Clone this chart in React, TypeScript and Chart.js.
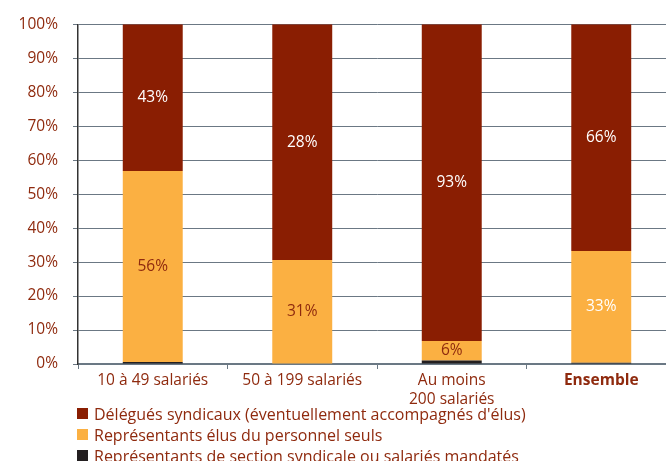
import React, { useEffect, useRef } from "react";
import { Chart, registerables } from "chart.js";

Chart.register(...registerables);

const categories: (string | string[])[] = ["10 à 49 salariés", "50 à 199 salariés", ["Au moins", "200 salariés"], "Ensemble"];
const mandatesValues = [0.6, 0, 1.0, 0.4];
const elusValues = [56.2, 30.6, 5.8, 32.9];
const delegatesValues = [43.2, 69.4, 93.2, 66.7];
const delegatesLabels = ["43%", "28%", "93%", "66%"];
const elusLabels = ["56%", "31%", "6%", "33%"];
const legendLabels = [
  "Délégués syndicaux (éventuellement accompagnés d'élus)",
  "Représentants élus du personnel seuls",
  "Représentants de section syndicale ou salariés mandatés",
];

const RED = "#8a1e02";
const ORANGE = "#fbb042";
const BLACK = "#231f20";
const TEXT = "#8f2a0e";
const FONT = "'Open Sans', sans-serif";

const segLabelPlugin = {
  id: "segLabels",
  afterDatasetsDraw(chart: any) {
    const ctx = chart.ctx;
    ctx.save();
    ctx.font = `15.5px ${FONT}`;
    ctx.textAlign = "center";
    ctx.textBaseline = "middle";
    const cfg = [
      { ds: 1, labels: elusLabels, colors: [TEXT, TEXT, TEXT, "#ffffff"] },
      { ds: 2, labels: delegatesLabels, colors: ["#ffffff", "#ffffff", "#ffffff", "#ffffff"] },
    ];
    cfg.forEach((c) => {
      const meta = chart.getDatasetMeta(c.ds);
      meta.data.forEach((el: any, i: number) => {
        const y = (el.y + el.base) / 2;
        ctx.fillStyle = c.colors[i];
        ctx.fillText(c.labels[i], el.x, y);
      });
    });
    ctx.restore();
  },
};

export default function App() {
  const ref = useRef<HTMLCanvasElement>(null);
  useEffect(() => {
    if (!ref.current) return;
    const chart = new Chart(ref.current, {
      type: "bar",
      data: {
        labels: categories as any,
        datasets: [
          { label: legendLabels[2], data: mandatesValues, backgroundColor: BLACK },
          { label: legendLabels[1], data: elusValues, backgroundColor: ORANGE },
          { label: legendLabels[0], data: delegatesValues, backgroundColor: RED },
        ],
      },
      options: {
        animation: false,
        responsive: false,
        layout: { padding: { top: 24, right: 4, left: 0, bottom: 0 } },
        plugins: { legend: { display: false }, tooltip: { enabled: false } },
        datasets: { bar: { barPercentage: 0.401, categoryPercentage: 1 } },
        scales: {
          x: {
            stacked: true,
            grid: { drawOnChartArea: false, drawTicks: true, tickLength: 5, color: "#6b7884" },
            border: { color: "#6b7884", width: 1.5 },
            ticks: {
              color: TEXT,
              padding: 2,
              font: ((c: any) => ({ family: FONT, size: 15.5, weight: c.index === 3 ? "bold" : "normal", lineHeight: 1.22 })) as any,
              maxRotation: 0,
            },
            afterFit(scale: any) {
              scale.height = 46;
            },
          },
          y: {
            stacked: true,
            min: 0,
            max: 100,
            grid: { color: "#6b7884", tickLength: 5, lineWidth: 1 },
            border: { color: "#333333", width: 1.5 },
            ticks: {
              stepSize: 10,
              color: TEXT,
              padding: 15,
              font: { family: FONT, size: 15.5 },
              callback: (v: any) => v + "%",
            },
            afterFit(scale: any) {
              scale.width = 78;
            },
          },
        },
      },
      plugins: [segLabelPlugin],
    });
    return () => chart.destroy();
  }, []);

  const legendColors = [RED, ORANGE, BLACK];
  return (
    <div style={{ position: "fixed", left: 0, top: 0, width: 666, height: 461, overflow: "hidden", background: "#fff" }}>
      <canvas ref={ref} width={680} height={410} style={{ width: 680, height: 410, display: "block" }} />
      <div style={{ position: "absolute", left: 77, top: 403, fontFamily: FONT, fontSize: 16, color: TEXT }}>
        {legendLabels.map((t, i) => (
          <div key={i} style={{ display: "flex", alignItems: "center", height: 21, whiteSpace: "nowrap" }}>
            <span style={{ display: "inline-block", width: 11, height: 11, background: legendColors[i], marginRight: 6 }} />
            <span>{t}</span>
          </div>
        ))}
      </div>
    </div>
  );
}
